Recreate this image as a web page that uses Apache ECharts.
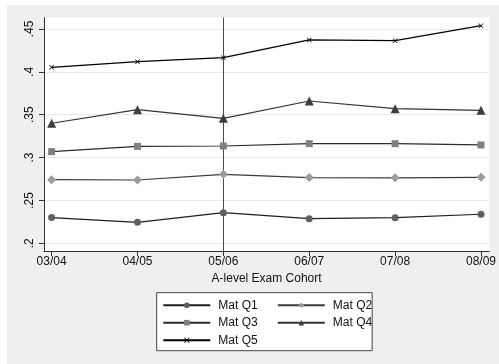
<!DOCTYPE html>
<html>
<head>
<meta charset="utf-8">
<script src="https://cdn.jsdelivr.net/npm/echarts@6/dist/echarts.min.js"></script>
<style>
  html, body { margin: 0; padding: 0; background: #ffffff; }
  #wrap { position: relative; width: 499px; height: 364px; background: #ffffff; overflow: hidden; }
  #chart { position: absolute; left: 7px; top: 5px; width: 492px; height: 359px; }
</style>
</head>
<body>
<div id="wrap"><div id="chart"></div></div>
<script>
// ---- data ----
const categories = ['03/04', '04/05', '05/06', '06/07', '07/08', '08/09'];
const matQ1 = [0.230, 0.2245, 0.2357, 0.2287, 0.2299, 0.2339];
const matQ2 = [0.2742, 0.2738, 0.2805, 0.2766, 0.2764, 0.2770];
const matQ3 = [0.3069, 0.3131, 0.3135, 0.3162, 0.3162, 0.3147];
const matQ4 = [0.3400, 0.3559, 0.3458, 0.3660, 0.3570, 0.3551];
const matQ5 = [0.4053, 0.4119, 0.4165, 0.4372, 0.4364, 0.4539];
const yTickValues = [0.2, 0.25, 0.3, 0.35, 0.4, 0.45];
const yTickLabels = ['.2', '.25', '.3', '.35', '.4', '.45'];
const seriesNames = ['Mat Q1', 'Mat Q2', 'Mat Q3', 'Mat Q4', 'Mat Q5'];
const referenceCategory = '05/06';

const FONT = '"Liberation Sans", Arial, sans-serif';
const xIdx = categories.map((c, i) => i);
const toPairs = arr => arr.map((v, i) => [i, v]);
const X_SYMBOL = 'path://M0,1L1,0L5,4L9,0L10,1L6,5L10,9L9,10L5,6L1,10L0,9L4,5Z';

const styles = [
  { line: '#1e1e1e', mark: '#5f5f5f', symbol: 'circle', size: 7 },
  { line: '#3a3a3a', mark: '#9b9b9b', symbol: 'diamond', size: 9 },
  { line: '#2a2a2a', mark: '#808080', symbol: 'rect', size: 7 },
  { line: '#333333', mark: '#3d3d3d', symbol: 'triangle', size: 9 },
  { line: '#000000', mark: '#000000', symbol: X_SYMBOL, size: 5 }
];
const allData = [matQ1, matQ2, matQ3, matQ4, matQ5];

const series = allData.map((d, k) => ({
  name: seriesNames[k],
  type: 'line',
  data: toPairs(d),
  symbol: styles[k].symbol,
  symbolSize: styles[k].size,
  showSymbol: true,
  lineStyle: { color: styles[k].line, width: 1.2 },
  itemStyle: { color: styles[k].mark, borderWidth: 0 },
  emphasis: { disabled: true },
  animation: false,
  z: 5 + k
}));
series[0].markLine = {
  silent: true,
  symbol: ['none', 'none'],
  label: { show: false },
  lineStyle: { color: '#4a4a4a', width: 1, type: 'solid' },
  data: [{ xAxis: categories.indexOf(referenceCategory) }],
  animation: false
};

const colWide = [0, 2, 4];
const legendData = seriesNames.map((n, k) => ({
  name: n,
  textStyle: { width: colWide.includes(k) ? 55 : 38 }
}));

const chart = echarts.init(document.getElementById('chart'));
chart.setOption({
  backgroundColor: '#efefef',
  animation: false,
  textStyle: { fontFamily: FONT },
  grid: {
    left: 37, top: 12.5, right: 4.7, bottom: 113,
    show: true, backgroundColor: '#ffffff', borderWidth: 0
  },
  xAxis: {
    type: 'value',
    min: -0.0886, max: 5.0956,
    name: 'A-level Exam Cohort',
    nameLocation: 'middle',
    nameGap: 19,
    nameTextStyle: { color: '#111', fontSize: 12, fontFamily: FONT },
    axisLine: { show: true, onZero: false, lineStyle: { color: '#333', width: 1 } },
    axisTick: { show: true, length: 5, customValues: xIdx, lineStyle: { color: '#333' } },
    axisLabel: {
      customValues: xIdx, margin: 5, color: '#111', fontSize: 12, fontFamily: FONT,
      formatter: v => categories[Math.round(v)] || ''
    },
    splitLine: { show: false }
  },
  yAxis: {
    type: 'value',
    min: 0.1910, max: 0.4634,
    axisLine: { show: true, onZero: false, lineStyle: { color: '#333', width: 1 } },
    axisTick: { show: true, length: 5, customValues: yTickValues, lineStyle: { color: '#333' } },
    axisLabel: {
      customValues: yTickValues, margin: 8, rotate: 90, color: '#111', fontSize: 12, fontFamily: FONT,
      formatter: v => {
        const i = yTickValues.findIndex(t => Math.abs(t - v) < 1e-6);
        return i >= 0 ? yTickLabels[i] : '';
      }
    },
    splitLine: { show: true, lineStyle: { color: '#e9e9e9', width: 1 } }
  },
  legend: {
    data: legendData,
    left: 149.7, top: 287.7,
    width: 212,
    orient: 'horizontal',
    itemWidth: 47, itemHeight: 7, itemGap: 3.5,
    padding: [5.5, 0, 3.5, 5.6],
    backgroundColor: '#ffffff',
    borderColor: '#444444', borderWidth: 1, borderRadius: 0,
    textStyle: { color: '#111', fontSize: 12, fontFamily: FONT, lineHeight: 14, padding: [0, 0, 0, 3] },
    selectedMode: false
  },
  series: series
});
</script>
</body>
</html>
